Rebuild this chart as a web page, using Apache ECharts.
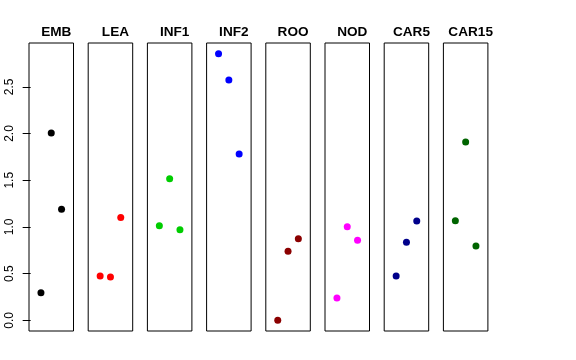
<!DOCTYPE html>
<html>
<head>
<meta charset="utf-8">
<script src="https://cdn.jsdelivr.net/npm/echarts@6/dist/echarts.min.js"></script>
<style>html,body{margin:0;padding:0;background:#fff;}#c{width:576px;height:360px;}</style>
</head>
<body>
<div id="c"></div>
<script>
var panels = ['EMB','LEA','INF1','INF2','ROO','NOD','CAR5','CAR15'];
var colors = ['#000000','#FF0000','#00CD00','#0000FF','#8B0000','#FF00FF','#00008B','#006400'];
var xPos = [1, 2, 3];
var EMB = [0.295, 2.005, 1.19];
var LEA = [0.474, 0.463, 1.10];
var INF1 = [1.013, 1.516, 0.970];
var INF2 = [2.855, 2.573, 1.781];
var ROO = [0.0, 0.739, 0.874];
var NOD = [0.239, 1.002, 0.857];
var CAR5 = [0.474, 0.835, 1.063];
var CAR15 = [1.066, 1.909, 0.796];
var yTicks = [0, 0.5, 1, 1.5, 2, 2.5];
var values = [EMB, LEA, INF1, INF2, ROO, NOD, CAR5, CAR15];

var lefts = [29, 88.2, 147.4, 206.6, 265.8, 325, 384.2, 443.4];
var W = 44.5, TOP = 43, H = 288;
var yMin = -0.114, yMax = 2.969;

var grids = [], xAxes = [], yAxes = [], series = [], titles = [];
panels.forEach(function (name, i) {
  grids.push({left: lefts[i], top: TOP, width: W, height: H, show: true, borderColor: '#000', borderWidth: 1, backgroundColor: 'transparent'});
  xAxes.push({gridIndex: i, type: 'value', min: -0.16, max: 4.16, show: false});
  var ya = {gridIndex: i, type: 'value', min: yMin, max: yMax, splitLine: {show: false}};
  if (i === 0) {
    ya.axisLine = {show: false};
    ya.axisTick = {show: true, length: 8, lineStyle: {color: '#000'}, customValues: yTicks};
    ya.axisLabel = {show: true, rotate: 90, margin: 13, fontSize: 12, color: '#000', fontFamily: 'Liberation Sans, Arial, sans-serif', customValues: yTicks, formatter: function (v) { return v.toFixed(1); }};
  } else {
    ya.show = false;
  }
  yAxes.push(ya);
  series.push({
    type: 'scatter', xAxisIndex: i, yAxisIndex: i,
    data: xPos.map(function (x, k) { return [x, values[i][k]]; }),
    symbol: 'circle', symbolSize: 7,
    itemStyle: {color: colors[i], opacity: 1},
    emphasis: {disabled: true}, animation: false
  });
  titles.push({text: name, left: lefts[i] + W / 2, top: 20, textAlign: 'center',
    textStyle: {fontSize: 13.6, fontWeight: 'bold', color: '#000', fontFamily: 'Liberation Sans, Arial, sans-serif'}});
});

var chart = echarts.init(document.getElementById('c'), null, {renderer: 'canvas'});
chart.setOption({
  animation: false,
  backgroundColor: '#fff',
  title: titles,
  grid: grids,
  xAxis: xAxes,
  yAxis: yAxes,
  series: series
});
</script>
</body>
</html>
